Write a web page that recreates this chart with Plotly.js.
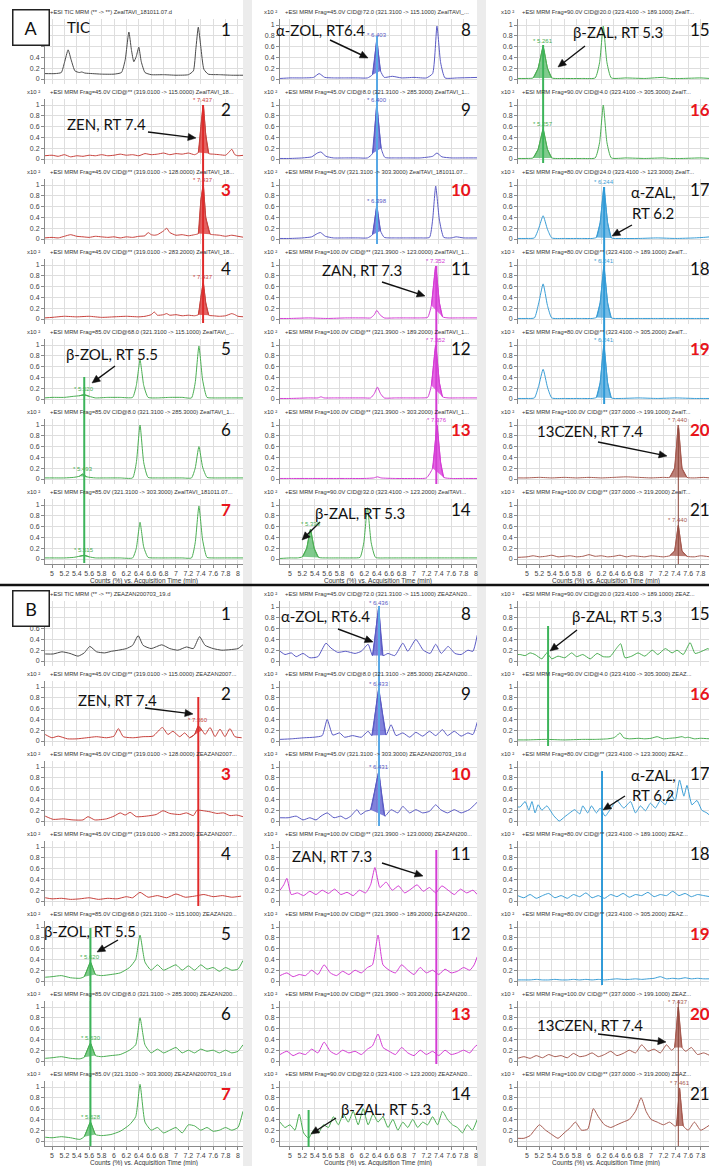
<!DOCTYPE html>
<html><head><meta charset="utf-8">
<script src="https://cdn.plot.ly/plotly-3.0.1.min.js"></script>
<style>html,body{margin:0;padding:0;background:#fff}#chart{width:709px;height:1166px}</style>
</head><body><div id="chart"></div>
<script>
// ================= DATA =================
// Panel A (ZealTAVI_181011.07) — retention time (min) and relative counts (x10^2)
const tA1 = [4.88,5.05,5.15,5.2,5.26,5.31,5.37,5.44,5.48,5.53,5.65,5.8,6.0,6.12,6.18,6.24,6.28,6.32,6.36,6.4,6.44,6.5,6.6,6.8,7.0,7.2,7.28,7.32,7.36,7.4,7.45,7.52,7.7,7.9,8.1];
const yA1 = [0.1,0.1,0.12,0.3,0.54,0.35,0.15,0.12,0.13,0.11,0.1,0.09,0.09,0.12,0.35,0.87,0.55,0.32,0.42,0.59,0.32,0.12,0.08,0.08,0.07,0.08,0.15,0.55,0.96,0.6,0.18,0.09,0.08,0.07,0.07];
const tA2 = [4.88,5.0,5.1,5.2,5.3,5.4,5.5,5.6,5.7,5.8,5.9,6.0,6.1,6.2,6.3,6.4,6.5,6.6,6.7,6.8,6.9,7.0,7.1,7.2,7.3,7.36,7.4,7.44,7.48,7.53,7.6,7.7,7.8,7.85,7.9,7.95,8.0,8.1];
const yA2 = [0.06,0.07,0.05,0.08,0.04,0.06,0.05,0.07,0.06,0.08,0.06,0.07,0.09,0.07,0.08,0.06,0.1,0.08,0.09,0.11,0.08,0.1,0.09,0.11,0.08,0.12,0.6,1.0,0.45,0.1,0.09,0.08,0.07,0.12,0.18,0.08,0.06,0.07];
const tA3 = [4.88,5.0,5.1,5.2,5.3,5.4,5.5,5.6,5.7,5.8,5.9,6.0,6.1,6.2,6.3,6.4,6.5,6.55,6.6,6.65,6.7,6.8,6.85,6.9,7.0,7.1,7.2,7.3,7.36,7.4,7.44,7.48,7.55,7.6,7.7,7.8,7.9,8.0,8.1];
const yA3 = [0.02,0.03,0.02,0.05,0.08,0.05,0.04,0.03,0.05,0.04,0.03,0.04,0.02,0.04,0.03,0.05,0.06,0.12,0.08,0.07,0.08,0.15,0.2,0.12,0.07,0.08,0.06,0.08,0.1,0.7,1.0,0.4,0.09,0.08,0.07,0.05,0.07,0.05,0.03];
const tA4 = [4.88,5.0,5.2,5.4,5.6,5.8,6.0,6.2,6.4,6.5,6.6,6.65,6.7,6.8,6.85,6.9,7.0,7.1,7.2,7.3,7.36,7.4,7.44,7.48,7.53,7.6,7.7,7.8,7.9,7.95,8.0,8.1];
const yA4 = [0.02,0.03,0.05,0.04,0.05,0.03,0.04,0.05,0.04,0.05,0.08,0.13,0.07,0.08,0.1,0.07,0.08,0.06,0.07,0.06,0.08,0.4,0.67,0.3,0.07,0.06,0.05,0.06,0.1,0.08,0.05,0.04];
const tA5 = [4.88,5.0,5.2,5.35,5.44,5.52,5.6,5.7,5.9,6.1,6.3,6.36,6.42,6.48,6.55,6.7,6.9,7.1,7.25,7.31,7.37,7.43,7.5,7.6,7.8,8.1];
const yA5 = [0.02,0.03,0.03,0.05,0.06,0.08,0.05,0.02,0.03,0.03,0.03,0.25,0.72,0.25,0.03,0.02,0.03,0.03,0.02,0.3,0.98,0.35,0.03,0.02,0.02,0.02];
const tA6 = [4.88,5.0,5.2,5.35,5.44,5.49,5.56,5.7,5.9,6.1,6.3,6.36,6.42,6.48,6.55,6.7,6.9,7.1,7.25,7.31,7.37,7.43,7.5,7.6,7.8,8.1];
const yA6 = [0.02,0.02,0.02,0.03,0.05,0.09,0.04,0.02,0.02,0.02,0.02,0.3,1.0,0.3,0.03,0.02,0.02,0.02,0.02,0.2,0.6,0.22,0.03,0.02,0.02,0.02];
const tA7 = [4.88,5.0,5.2,5.35,5.44,5.52,5.6,5.7,5.9,6.1,6.3,6.36,6.42,6.48,6.55,6.7,6.9,7.1,7.25,7.31,7.37,7.43,7.5,7.6,7.8,8.1];
const yA7 = [0.02,0.02,0.02,0.03,0.05,0.07,0.04,0.02,0.02,0.02,0.02,0.2,0.68,0.22,0.03,0.02,0.02,0.02,0.02,0.3,0.98,0.35,0.03,0.02,0.02,0.02];
const tA8 = [4.84,5.0,5.2,5.38,5.47,5.56,5.7,5.9,6.1,6.25,6.33,6.4,6.46,6.52,6.65,6.8,7.0,7.2,7.3,7.37,7.43,7.5,7.7,8.05];
const yA8 = [0.01,0.02,0.02,0.03,0.1,0.03,0.02,0.02,0.02,0.02,0.08,0.72,0.15,0.03,0.05,0.02,0.03,0.02,0.1,0.98,0.3,0.02,0.02,0.03];
const tA9 = [4.84,5.0,5.2,5.35,5.44,5.5,5.58,5.7,5.9,6.1,6.25,6.33,6.4,6.47,6.53,6.7,6.9,7.1,7.3,7.37,7.45,7.6,7.8,8.05];
const yA9 = [0.01,0.01,0.02,0.04,0.11,0.13,0.05,0.02,0.02,0.02,0.02,0.1,1.0,0.2,0.03,0.02,0.02,0.02,0.05,0.11,0.04,0.02,0.02,0.02];
const tA10 = [4.84,5.0,5.2,5.35,5.44,5.49,5.57,5.7,5.9,6.1,6.25,6.33,6.4,6.46,6.52,6.7,6.9,7.1,7.25,7.3,7.35,7.41,7.48,7.6,7.68,7.8,8.05];
const yA10 = [0.01,0.01,0.02,0.04,0.1,0.12,0.05,0.02,0.02,0.02,0.02,0.08,0.61,0.15,0.03,0.02,0.02,0.02,0.03,0.35,0.98,0.35,0.03,0.02,0.04,0.02,0.02];
const tA11 = [4.84,5.0,5.3,5.6,5.9,6.2,6.3,6.36,6.4,6.45,6.52,6.7,6.9,7.1,7.22,7.28,7.35,7.41,7.46,7.55,7.7,7.9,8.05];
const yA11 = [0.01,0.01,0.02,0.01,0.02,0.02,0.02,0.08,0.16,0.08,0.02,0.02,0.02,0.02,0.03,0.25,0.98,0.3,0.04,0.02,0.02,0.02,0.02];
const tA12 = [4.84,5.0,5.3,5.45,5.5,5.55,5.7,5.9,6.2,6.3,6.36,6.41,6.46,6.52,6.7,6.9,7.1,7.22,7.28,7.35,7.41,7.46,7.55,7.7,7.9,8.05];
const yA12 = [0.01,0.01,0.02,0.02,0.04,0.02,0.02,0.02,0.02,0.02,0.1,0.22,0.1,0.02,0.02,0.02,0.02,0.03,0.25,1.0,0.3,0.04,0.02,0.02,0.02,0.02];
const tA13 = [4.84,5.0,5.3,5.6,5.9,6.2,6.35,6.41,6.47,6.7,7.0,7.2,7.3,7.37,7.43,7.48,7.6,7.8,8.05];
const yA13 = [0.01,0.01,0.01,0.01,0.01,0.01,0.02,0.04,0.02,0.01,0.01,0.02,0.2,1.0,0.3,0.03,0.01,0.01,0.01];
const tA14 = [4.84,5.0,5.12,5.2,5.27,5.33,5.39,5.46,5.6,5.8,6.0,6.13,6.19,6.25,6.31,6.38,6.55,6.8,7.0,7.3,7.6,8.05];
const yA14 = [0.01,0.02,0.02,0.04,0.2,0.55,0.2,0.03,0.02,0.02,0.02,0.03,0.3,0.95,0.3,0.03,0.02,0.02,0.02,0.02,0.02,0.02];
const tA15 = [4.85,5.0,5.1,5.18,5.26,5.33,5.4,5.6,5.9,6.1,6.17,6.23,6.29,6.36,6.6,6.9,7.2,7.3,7.5,7.8,7.95];
const yA15 = [0.01,0.01,0.02,0.2,0.6,0.2,0.02,0.01,0.01,0.02,0.3,0.98,0.3,0.02,0.02,0.01,0.03,0.01,0.01,0.02,0.01];
const tA16 = tA15;
const yA16 = [0.01,0.01,0.02,0.18,0.55,0.18,0.02,0.01,0.01,0.02,0.3,1.0,0.3,0.02,0.02,0.01,0.02,0.01,0.01,0.02,0.01];
const tA17 = [4.85,5.0,5.12,5.19,5.26,5.33,5.4,5.6,5.9,6.05,6.12,6.18,6.24,6.3,6.36,6.5,6.8,7.1,7.4,7.7,7.85,7.95];
const yA17 = [0.01,0.01,0.02,0.2,0.43,0.18,0.02,0.01,0.01,0.01,0.03,0.3,0.96,0.3,0.02,0.01,0.01,0.02,0.01,0.02,0.03,0.04];
const tA18 = tA17;
const yA18 = [0.01,0.01,0.02,0.3,0.65,0.25,0.02,0.01,0.01,0.01,0.03,0.3,0.98,0.3,0.02,0.01,0.01,0.01,0.01,0.01,0.01,0.01];
const tA19 = tA17;
const yA19 = [0.01,0.01,0.02,0.25,0.55,0.22,0.02,0.01,0.01,0.01,0.03,0.3,1.0,0.3,0.02,0.01,0.02,0.01,0.02,0.01,0.01,0.01];
const tA20 = [4.85,5.0,5.2,5.4,5.6,5.8,6.0,6.2,6.4,6.6,6.8,7.0,7.2,7.3,7.38,7.44,7.5,7.58,7.7,7.85,7.95];
const yA20 = [0.02,0.02,0.03,0.02,0.03,0.02,0.03,0.02,0.03,0.04,0.03,0.02,0.03,0.03,0.2,1.0,0.2,0.03,0.02,0.03,0.02];
const tA21 = [4.85,5.0,5.1,5.2,5.3,5.4,5.5,5.6,5.7,5.8,5.9,6.0,6.1,6.2,6.3,6.4,6.5,6.6,6.7,6.8,6.9,7.0,7.1,7.2,7.3,7.38,7.44,7.5,7.58,7.7,7.8,7.95];
const yA21 = [0.03,0.04,0.06,0.04,0.05,0.07,0.04,0.05,0.06,0.04,0.05,0.08,0.05,0.06,0.04,0.05,0.07,0.04,0.06,0.05,0.04,0.06,0.05,0.04,0.06,0.15,0.62,0.15,0.05,0.04,0.06,0.04];

// Panel B (ZEAZAN200703_19)
const tB1 = [4.89,5.02,5.16,5.29,5.42,5.52,5.61,5.72,5.85,5.96,6.07,6.2,6.3,6.39,6.47,6.6,6.77,6.9,7.03,7.17,7.28,7.38,7.47,7.6,7.74,7.87,8.0,8.08];
const yB1 = [0.13,0.13,0.17,0.14,0.09,0.15,0.27,0.17,0.15,0.18,0.2,0.23,0.29,0.47,0.29,0.23,0.3,0.23,0.2,0.26,0.23,0.45,0.29,0.23,0.2,0.21,0.23,0.3];
const tB2 = [4.89,5.0,5.1,5.25,5.4,5.56,5.72,5.88,6.0,6.07,6.15,6.31,6.47,6.63,6.78,6.87,6.95,7.06,7.14,7.22,7.3,7.36,7.42,7.47,7.55,7.63,7.71,7.79,7.87,7.95,8.06];
const yB2 = [0.12,0.06,0.09,0.04,0.04,0.06,0.08,0.06,0.09,0.23,0.08,0.06,0.08,0.09,0.25,0.12,0.18,0.08,0.15,0.06,0.12,0.28,0.2,0.12,0.25,0.08,0.22,0.08,0.23,0.08,0.06];
const tB3 = [4.89,5.02,5.18,5.34,5.5,5.58,5.69,5.88,6.0,6.1,6.18,6.26,6.36,6.52,6.68,6.79,6.9,7.06,7.17,7.28,7.34,7.44,7.55,7.66,7.77,7.87,7.98,8.08];
const yB3 = [0.09,0.03,0.04,0.02,0.02,0.08,0.02,0.04,0.09,0.15,0.11,0.16,0.08,0.09,0.12,0.19,0.14,0.12,0.15,0.1,0.2,0.19,0.17,0.14,0.15,0.1,0.11,0.08];
const tB4 = [4.89,5.0,5.15,5.3,5.45,5.6,5.75,5.9,6.05,6.2,6.3,6.42,6.55,6.7,6.85,7.0,7.15,7.3,7.45,7.6,7.75,7.9,8.05];
const yB4 = [0.06,0.04,0.05,0.03,0.04,0.06,0.03,0.05,0.04,0.08,0.06,0.16,0.07,0.1,0.06,0.13,0.07,0.09,0.12,0.08,0.1,0.07,0.09];
const tB5 = [4.89,5.0,5.15,5.3,5.45,5.52,5.62,5.7,5.8,5.95,6.1,6.25,6.35,6.42,6.5,6.6,6.7,6.8,6.9,7.0,7.1,7.2,7.3,7.4,7.5,7.6,7.7,7.8,7.9,8.0,8.08];
const yB5 = [0.07,0.08,0.1,0.06,0.05,0.08,0.35,0.12,0.1,0.12,0.15,0.25,0.4,0.85,0.35,0.2,0.3,0.2,0.25,0.3,0.2,0.28,0.2,0.3,0.22,0.25,0.18,0.25,0.2,0.22,0.38];
const tB6 = tB5;
const yB6 = [0.05,0.06,0.08,0.05,0.04,0.07,0.33,0.1,0.08,0.1,0.12,0.2,0.3,0.8,0.3,0.15,0.22,0.15,0.2,0.25,0.15,0.2,0.15,0.22,0.18,0.2,0.15,0.2,0.15,0.18,0.3];
const tB7 = tB5;
const yB7 = [0.07,0.06,0.08,0.06,0.03,0.08,0.35,0.12,0.1,0.12,0.18,0.3,0.45,1.05,0.35,0.2,0.25,0.15,0.2,0.25,0.15,0.3,0.28,0.2,0.25,0.18,0.2,0.25,0.2,0.25,0.55];
const tB8 = [4.84,4.92,5.02,5.1,5.21,5.32,5.45,5.58,5.66,5.77,5.9,6.05,6.15,6.26,6.33,6.43,6.5,6.58,6.69,6.82,6.9,7.03,7.15,7.26,7.35,7.44,7.55,7.66,7.76,7.87,7.95,8.02];
const yB8 = [0.18,0.12,0.15,0.08,0.14,0.06,0.08,0.33,0.24,0.16,0.18,0.14,0.18,0.31,0.1,0.98,0.1,0.14,0.1,0.33,0.18,0.4,0.2,0.14,0.31,0.14,0.27,0.14,0.12,0.2,0.18,0.48];
const tB9 = [4.84,5.02,5.23,5.39,5.52,5.6,5.69,5.8,5.88,6.01,6.15,6.26,6.32,6.43,6.55,6.63,6.71,6.82,6.93,7.03,7.14,7.25,7.35,7.46,7.54,7.65,7.76,7.87,7.95,8.02];
const yB9 = [0.03,0.04,0.06,0.07,0.1,0.4,0.11,0.15,0.07,0.1,0.07,0.18,0.1,0.95,0.11,0.3,0.1,0.15,0.07,0.16,0.09,0.18,0.1,0.21,0.1,0.18,0.09,0.15,0.12,0.35];
const tB10 = [4.84,4.97,5.1,5.21,5.32,5.42,5.5,5.6,5.71,5.82,5.9,5.98,6.08,6.14,6.22,6.3,6.43,6.53,6.63,6.74,6.82,6.93,7.03,7.14,7.25,7.35,7.43,7.54,7.65,7.76,7.89,8.02];
const yB10 = [0.06,0.06,0.09,0.02,0.06,0.02,0.09,0.15,0.06,0.09,0.04,0.09,0.21,0.12,0.18,0.21,0.9,0.09,0.21,0.15,0.27,0.15,0.21,0.15,0.18,0.3,0.21,0.15,0.21,0.15,0.21,0.35];
const tB11 = [4.84,4.9,4.95,5.02,5.12,5.22,5.32,5.42,5.52,5.62,5.72,5.82,5.92,6.02,6.12,6.22,6.3,6.37,6.45,6.55,6.65,6.75,6.85,6.95,7.05,7.15,7.25,7.35,7.45,7.55,7.65,7.75,7.85,7.95,8.02];
const yB11 = [0.2,0.3,0.42,0.12,0.15,0.1,0.18,0.12,0.2,0.14,0.22,0.12,0.16,0.1,0.2,0.15,0.3,0.62,0.25,0.35,0.2,0.28,0.15,0.22,0.3,0.18,0.25,0.15,0.28,0.2,0.12,0.22,0.15,0.2,0.12];
const tB12 = [4.84,4.95,5.05,5.15,5.25,5.35,5.45,5.55,5.65,5.75,5.85,5.95,6.05,6.15,6.25,6.33,6.42,6.5,6.6,6.7,6.8,6.9,7.0,7.1,7.2,7.3,7.4,7.5,7.6,7.7,7.8,7.9,7.97,8.02];
const yB12 = [0.1,0.15,0.08,0.12,0.1,0.2,0.12,0.3,0.15,0.1,0.18,0.12,0.2,0.15,0.25,0.3,0.85,0.3,0.2,0.15,0.3,0.2,0.12,0.25,0.15,0.2,0.12,0.22,0.15,0.18,0.25,0.2,0.3,0.45];
const tB13 = tB12;
const yB13 = [0.12,0.18,0.1,0.15,0.12,0.22,0.15,0.35,0.18,0.12,0.2,0.15,0.18,0.12,0.22,0.28,0.5,0.25,0.18,0.12,0.25,0.15,0.1,0.2,0.12,0.18,0.1,0.2,0.12,0.15,0.2,0.15,0.25,0.3];
const tB14 = [4.84,4.92,5.0,5.08,5.15,5.22,5.3,5.38,5.46,5.54,5.62,5.7,5.78,5.86,5.94,6.02,6.1,6.18,6.26,6.34,6.42,6.5,6.58,6.66,6.74,6.82,6.9,6.98,7.06,7.14,7.22,7.3,7.38,7.46,7.54,7.62,7.7,7.78,7.86,7.94,8.02];
const yB14 = [0.35,0.25,0.3,0.2,0.5,0.15,0.05,0.2,0.15,0.3,0.25,0.45,0.3,0.5,0.35,0.55,0.3,0.6,0.3,0.5,0.35,0.45,0.25,0.4,0.2,0.35,0.25,0.4,0.25,0.35,0.3,0.45,0.3,0.55,0.4,0.3,0.25,0.15,0.3,0.2,0.4];
const tB15 = [4.85,4.89,4.97,5.05,5.13,5.24,5.32,5.4,5.5,5.61,5.72,5.8,5.9,6.02,6.13,6.23,6.34,6.42,6.51,6.58,6.69,6.79,6.9,7.02,7.11,7.23,7.34,7.42,7.52,7.63,7.71,7.82,7.92,7.95];
const yB15 = [0.12,0.12,0.1,0.15,0.12,0.04,0.15,0.04,0.09,0.06,0.15,0.08,0.12,0.04,0.14,0.08,0.08,0.2,0.32,0.06,0.09,0.15,0.09,0.2,0.12,0.23,0.15,0.2,0.12,0.34,0.14,0.18,0.23,0.2];
const tB16 = [4.85,5.0,5.3,5.6,5.9,6.1,6.3,6.4,6.45,6.5,6.56,6.65,6.8,6.9,7.0,7.1,7.2,7.3,7.4,7.5,7.55,7.6,7.7,7.8,7.95];
const yB16 = [0.02,0.02,0.03,0.02,0.03,0.03,0.04,0.06,0.1,0.15,0.06,0.04,0.05,0.04,0.05,0.08,0.04,0.05,0.06,0.08,0.06,0.07,0.04,0.05,0.04];
const tB17 = [4.85,4.89,4.97,5.03,5.08,5.13,5.18,5.24,5.32,5.43,5.52,5.61,5.69,5.77,5.85,5.9,5.98,6.04,6.12,6.18,6.26,6.34,6.45,6.56,6.67,6.75,6.83,6.91,6.99,7.07,7.15,7.23,7.31,7.39,7.46,7.53,7.58,7.66,7.74,7.82,7.9,7.96];
const yB17 = [0.26,0.26,0.36,0.2,0.36,0.15,0.3,0.2,0.28,0.1,0.0,0.08,0.15,0.21,0.13,0.28,0.15,0.28,0.15,0.24,0.09,0.21,0.38,0.24,0.36,0.15,0.28,0.19,0.33,0.24,0.38,0.3,0.52,0.38,0.76,0.46,0.66,0.3,0.38,0.2,0.15,0.09];
const tB18 = [4.85,4.95,5.05,5.15,5.25,5.35,5.45,5.55,5.65,5.75,5.85,5.95,6.05,6.15,6.25,6.35,6.45,6.55,6.65,6.75,6.85,6.95,7.05,7.15,7.25,7.35,7.45,7.55,7.65,7.75,7.85,7.95];
const yB18 = [0.1,0.06,0.12,0.05,0.1,0.14,0.06,0.1,0.05,0.12,0.08,0.15,0.06,0.1,0.05,0.12,0.08,0.14,0.07,0.12,0.1,0.16,0.08,0.12,0.1,0.18,0.1,0.14,0.08,0.12,0.1,0.08];
const tB19 = tB18;
const yB19 = [0.02,0.02,0.02,0.03,0.02,0.02,0.03,0.02,0.02,0.03,0.02,0.03,0.02,0.03,0.02,0.03,0.04,0.03,0.03,0.04,0.03,0.04,0.05,0.08,0.04,0.05,0.04,0.06,0.04,0.05,0.04,0.04];
const tB20 = [4.85,4.95,5.05,5.15,5.25,5.35,5.45,5.55,5.65,5.75,5.85,5.95,6.05,6.15,6.25,6.35,6.45,6.55,6.65,6.75,6.85,6.95,7.05,7.15,7.25,7.33,7.38,7.44,7.5,7.56,7.65,7.75,7.85,7.95];
const yB20 = [0.05,0.08,0.05,0.1,0.06,0.12,0.08,0.1,0.06,0.14,0.08,0.1,0.15,0.08,0.12,0.18,0.1,0.14,0.2,0.15,0.3,0.18,0.22,0.15,0.3,0.2,0.25,1.0,0.25,0.18,0.25,0.12,0.15,0.1];
const tB21 = [4.85,4.95,5.05,5.12,5.2,5.3,5.4,5.5,5.6,5.7,5.78,5.88,5.98,6.07,6.15,6.25,6.35,6.45,6.55,6.65,6.75,6.84,6.92,7.0,7.1,7.2,7.3,7.38,7.41,7.46,7.52,7.6,7.7,7.8,7.95];
const yB21 = [0.05,0.05,0.1,0.2,0.3,0.2,0.12,0.05,0.15,0.25,0.35,0.2,0.22,0.6,0.45,0.3,0.25,0.3,0.35,0.4,0.55,0.8,0.55,0.4,0.35,0.3,0.35,0.28,0.28,0.98,0.28,0.2,0.35,0.2,0.3];

// integrated peak windows (min) and labelled apex times
const fillA = {2:[7.36,7.53],3:[7.36,7.55],4:[7.36,7.53],5:[5.44,5.6],6:[5.44,5.56],7:[5.44,5.6],8:[6.33,6.46],9:[6.33,6.47],10:[6.33,6.46],11:[7.28,7.46],12:[7.28,7.46],13:[7.3,7.48],14:[5.2,5.46],15:[5.1,5.4],16:[5.1,5.4],17:[6.12,6.36],18:[6.12,6.36],19:[6.12,6.36],20:[7.3,7.58],21:[7.3,7.58]};
const fillB = {2:[7.22,7.42],5:[5.52,5.7],6:[5.52,5.7],7:[5.52,5.7],8:[6.33,6.5],9:[6.32,6.55],10:[6.3,6.53],20:[7.38,7.5],21:[7.41,7.52]};
const rtA = {2:'7.437',3:'7.437',4:'7.437',5:'5.520',6:'5.493',7:'5.515',8:'6.403',9:'6.400',10:'6.398',11:'7.352',12:'7.352',13:'7.376',14:'5.339',15:'5.261',16:'5.257',17:'6.244',18:'6.241',19:'6.241',20:'7.440',21:'7.440'};
const rtB = {2:'7.360',5:'5.620',6:'5.630',7:'5.628',8:'6.436',9:'6.433',10:'6.431',20:'7.437',21:'7.461'};
// RT cursor lines (min)
const cursorA = [{n:2,t:7.437},{n:5,t:5.52},{n:8,t:6.403},{n:11,t:7.36},{n:15,t:5.26},{n:17,t:6.244},{n:20,t:7.44}];
const cursorB = [{n:2,t:7.36},{n:5,t:5.62},{n:8,t:6.436},{n:11,t:7.36},{n:14,t:5.3},{n:15,t:5.34},{n:17,t:6.21},{n:20,t:7.44}];

const redNums = [3,7,10,13,16,19,20];
const hdrA = [
'+ESI TIC MRM (** -&gt; **) ZealTAVI_181011.07.d',
'+ESI MRM Frag=45.0V CID@** (319.0100 -&gt; 115.0000) ZealTAVI_18...',
'+ESI MRM Frag=45.0V CID@** (319.0100 -&gt; 128.0000) ZealTAVI_18...',
'+ESI MRM Frag=45.0V CID@** (319.0100 -&gt; 283.2000) ZealTAVI_18...',
'+ESI MRM Frag=85.0V CID@68.0 (321.3100 -&gt; 115.1000) ZealTAVI_...',
'+ESI MRM Frag=85.0V CID@8.0 (321.3100 -&gt; 285.3000) ZealTAVI_1...',
'+ESI MRM Frag=85.0V (321.3100 -&gt; 303.3000) ZealTAVI_181011.07...',
'+ESI MRM Frag=45.0V CID@72.0 (321.3100 -&gt; 115.1000) ZealTAVI_...',
'+ESI MRM Frag=45.0V CID@8.0 (321.3100 -&gt; 285.3000) ZealTAVI_1...',
'+ESI MRM Frag=45.0V (321.3100 -&gt; 303.3000) ZealTAVI_181011.07...',
'+ESI MRM Frag=100.0V CID@** (321.3900 -&gt; 123.0000) ZealTAVI_1...',
'+ESI MRM Frag=100.0V CID@** (321.3900 -&gt; 189.2000) ZealTAVI_1...',
'+ESI MRM Frag=100.0V CID@** (321.3900 -&gt; 303.2000) ZealTAVI_1...',
'+ESI MRM Frag=90.0V CID@32.0 (323.4100 -&gt; 123.2000) ZealTAVI...',
'+ESI MRM Frag=90.0V CID@20.0 (323.4100 -&gt; 189.1000) ZealT...',
'+ESI MRM Frag=90.0V CID@4.0 (323.4100 -&gt; 305.3000) ZealT...',
'+ESI MRM Frag=80.0V CID@24.0 (323.4100 -&gt; 123.3000) ZealT...',
'+ESI MRM Frag=80.0V CID@** (323.4100 -&gt; 189.1000) ZealT...',
'+ESI MRM Frag=80.0V CID@** (323.4100 -&gt; 305.2000) ZealT...',
'+ESI MRM Frag=100.0V CID@** (337.0000 -&gt; 199.1000) ZealT...',
'+ESI MRM Frag=100.0V CID@** (337.0000 -&gt; 319.2000) ZealT...'];
const hdrB = [
'+ESI TIC MRM (** -&gt; **) ZEAZAN200703_19.d',
'+ESI MRM Frag=45.0V CID@** (319.0100 -&gt; 115.0000) ZEAZAN2007...',
'+ESI MRM Frag=45.0V CID@** (319.0100 -&gt; 128.0000) ZEAZAN2007...',
'+ESI MRM Frag=45.0V CID@** (319.0100 -&gt; 283.2000) ZEAZAN2007...',
'+ESI MRM Frag=85.0V CID@68.0 (321.3100 -&gt; 115.1000) ZEAZAN20...',
'+ESI MRM Frag=85.0V CID@8.0 (321.3100 -&gt; 285.3000) ZEAZAN200...',
'+ESI MRM Frag=85.0V (321.3100 -&gt; 303.3000) ZEAZAN200703_19.d',
'+ESI MRM Frag=45.0V CID@72.0 (321.3100 -&gt; 115.1000) ZEAZAN20...',
'+ESI MRM Frag=45.0V CID@8.0 (321.3100 -&gt; 285.3000) ZEAZAN200...',
'+ESI MRM Frag=45.0V (321.3100 -&gt; 303.3000) ZEAZAN200703_19.d',
'+ESI MRM Frag=100.0V CID@** (321.3900 -&gt; 123.0000) ZEAZAN200...',
'+ESI MRM Frag=100.0V CID@** (321.3900 -&gt; 189.2000) ZEAZAN200...',
'+ESI MRM Frag=100.0V CID@** (321.3900 -&gt; 303.2000) ZEAZAN200...',
'+ESI MRM Frag=90.0V CID@32.0 (323.4100 -&gt; 123.2000) ZEAZAN20...',
'+ESI MRM Frag=90.0V CID@20.0 (323.4100 -&gt; 189.1000) ZEAZ...',
'+ESI MRM Frag=90.0V CID@4.0 (323.4100 -&gt; 305.3000) ZEAZ...',
'+ESI MRM Frag=80.0V CID@** (323.4100 -&gt; 123.3000) ZEAZ...',
'+ESI MRM Frag=80.0V CID@** (323.4100 -&gt; 189.1000) ZEAZ...',
'+ESI MRM Frag=80.0V CID@** (323.4100 -&gt; 305.2000) ZEAZ...',
'+ESI MRM Frag=100.0V CID@** (337.0000 -&gt; 199.1000) ZEAZ...',
'+ESI MRM Frag=100.0V CID@** (337.0000 -&gt; 319.2000) ZEAZ...'];

const seriesA = [[tA1,yA1],[tA2,yA2],[tA3,yA3],[tA4,yA4],[tA5,yA5],[tA6,yA6],[tA7,yA7],[tA8,yA8],[tA9,yA9],[tA10,yA10],[tA11,yA11],[tA12,yA12],[tA13,yA13],[tA14,yA14],[tA15,yA15],[tA16,yA16],[tA17,yA17],[tA18,yA18],[tA19,yA19],[tA20,yA20],[tA21,yA21]];
const seriesB = [[tB1,yB1],[tB2,yB2],[tB3,yB3],[tB4,yB4],[tB5,yB5],[tB6,yB6],[tB7,yB7],[tB8,yB8],[tB9,yB9],[tB10,yB10],[tB11,yB11],[tB12,yB12],[tB13,yB13],[tB14,yB14],[tB15,yB15],[tB16,yB16],[tB17,yB17],[tB18,yB18],[tB19,yB19],[tB20,yB20],[tB21,yB21]];

// ================= LAYOUT / STYLE =================
const W = 709, H = 1166;
const PX = p => p / W, PY = p => 1 - p / H;
const FONT = 'Liberation Sans, Arial, sans-serif';
const BIG = 'Lato, Open Sans, sans-serif';
const COLS = [
  {L:45, R:243, t0:4.887, t1:8.081, hdrX:48, xtenX:25, numX:233, numA:'right'},
  {L:280, R:477, t0:4.839, t1:8.016, hdrX:283, xtenX:262, numX:473, numA:'right'},
  {L:518, R:709, t0:4.855, t1:7.935, hdrX:520, xtenX:499, numX:688, numA:'left'}];
const BASE = [79, 661], STEP = 80, UPX = 54;
const PAL = {
  gray:{l:'#4a4a4a', f:'rgba(80,80,80,0.5)'},
  red:{l:'#c8413c', f:'rgba(220,45,45,0.75)'},
  green:{l:'#4aae52', f:'rgba(60,175,80,0.65)'},
  blue:{l:'#5a5ac4', f:'rgba(75,75,205,0.7)'},
  mag:{l:'#d43cd4', f:'rgba(220,50,220,0.75)'},
  sky:{l:'#3a9ed6', f:'rgba(40,150,215,0.65)'},
  brown:{l:'#a65a50', f:'rgba(165,85,75,0.75)'}};
const CUR = {red:'#e02a2a', green:'#3cb45a', blue:'#58a8e6', mag:'#d43cd4', sky:'#2f9ad8', brown:'#8a4438'};
function colorOf(n){ if(n===1)return 'gray'; if(n<=4)return 'red'; if(n<=7)return 'green'; if(n<=10)return 'blue'; if(n<=13)return 'mag'; if(n<=16)return 'green'; if(n<=19)return 'sky'; return 'brown'; }

const traces = [], annotations = [], shapes = [];
const layout = {width:W, height:H, margin:{l:0,r:0,t:0,b:0}, paper_bgcolor:'#ffffff', plot_bgcolor:'#ffffff', showlegend:false, font:{family:FONT}};

// gutters between column screenshots
[[243,252],[477,486]].forEach(g => shapes.push({type:'rect', xref:'paper', yref:'paper', x0:PX(g[0]), x1:PX(g[1]), y0:0, y1:1, fillcolor:'#ececec', line:{width:0}, layer:'below'}));

function axisName(k){ return k===1 ? '' : String(k); }
const TICKV = [0,0.2,0.4,0.6,0.8,1];

for (let p = 0; p < 2; p++) {
  const series = p===0 ? seriesA : seriesB;
  const fills = p===0 ? fillA : fillB;
  const rts = p===0 ? rtA : rtB;
  const hdrs = p===0 ? hdrA : hdrB;
  for (let n = 1; n <= 21; n++) {
    const col = Math.floor((n-1)/7), row = (n-1)%7;
    const c = COLS[col];
    const k = p*21 + n;
    const xa = 'x'+axisName(k), ya = 'y'+axisName(k);
    const Z = BASE[p] + STEP*row;
    const bottom = row === 6;
    layout['xaxis'+axisName(k)] = {
      domain:[PX(c.L), PX(c.R)], range:[c.t0, c.t1], anchor:ya, tick0:5, dtick:0.2,
      showgrid:true, gridcolor:'#dedede', gridwidth:1, zeroline:false,
      showline:bottom, linecolor:'#8a8a8a', linewidth:1, ticks:bottom?'outside':'', ticklen:3, tickcolor:'#8a8a8a',
      showticklabels:bottom, tickfont:{size:7, color:'#444', family:FONT}, fixedrange:true};
    // the A/B frame covers the upper tick labels of the TIC rows
    const tt = n===1 ? (p===0 ? ['0','0.2','0.4','','',''] : ['0','0.2','0.4','0.6','','']) : ['0','0.2','0.4','0.6','0.8','1'];
    layout['yaxis'+axisName(k)] = {
      domain:[PY(Z+5), PY(Z-60)], range:[-5/UPX, 60/UPX], anchor:xa, tickmode:'array', tickvals:TICKV, ticktext:tt,
      showgrid:true, gridcolor:'#dedede', gridwidth:1, zeroline:false,
      showline:true, linecolor:'#8a8a8a', linewidth:1, ticks:'outside', ticklen:3, tickcolor:'#8a8a8a',
      tickfont:{size:7, color:'#444', family:FONT}, fixedrange:true};
    const cn = colorOf(n), pal = PAL[cn];
    const [ts, ys] = series[n-1];
    const fr = fills[n];
    let apex = null;
    if (fr) {
      const fx = [], fy = [];
      ts.forEach((t,i) => { if (t >= fr[0]-1e-9 && t <= fr[1]+1e-9) { fx.push(t); fy.push(ys[i]); } });
      traces.push({x:fx, y:fy, xaxis:xa, yaxis:ya, type:'scatter', mode:'lines', fill:'toself', fillcolor:pal.f, line:{color:pal.l, width:1}, hoverinfo:'skip'});
      apex = Math.max(...fy);
    }
    traces.push({x:ts, y:ys, xaxis:xa, yaxis:ya, type:'scatter', mode:'lines', line:{color:pal.l, width:1, shape:'spline', smoothing:0.5}, hoverinfo:'skip'});
    if (rts[n]) {
      const tv = parseFloat(rts[n]);
      annotations.push({xref:xa, yref:ya, x:tv, y:(apex===null?1:apex)+0.1, text:'* '+rts[n], showarrow:false, font:{size:6, color:pal.l, family:FONT}, xanchor:'center', yanchor:'middle'});
    }
    // header line
    annotations.push({xref:'paper', yref:'paper', x:PX(c.hdrX), y:PY(Z-67), text:hdrs[n-1], showarrow:false, xanchor:'left', yanchor:'middle', font:{size:5.8, color:'#333', family:FONT}});
    if (n !== 1) annotations.push({xref:'paper', yref:'paper', x:PX(c.xtenX), y:PY(Z-67), text:'x10 ²', showarrow:false, xanchor:'left', yanchor:'middle', font:{size:6, color:'#333', family:FONT}});
    // panel number
    const isRed = redNums.includes(n);
    annotations.push({xref:'paper', yref:'paper', x:PX(c.numX), y:PY(Z-(p===0?50:48)), text:isRed?'<b>'+n+'</b>':String(n), showarrow:false, xanchor:c.numA, yanchor:'middle', font:{size:17, color:isRed?'#e8141b':'#111', family:BIG}});
    if (bottom) annotations.push({xref:'paper', yref:'paper', x:PX((c.L+c.R)/2 + (col===2?-8:0)), y:PY(Z+22), text:'Counts (%) vs. Acquisition Time (min)', showarrow:false, xanchor:'center', yanchor:'middle', font:{size:6.5, color:'#333', family:FONT}});
  }
}

// RT cursor lines (vertical extent in px of the screenshot)
const curSpanA = {2:[105,323],5:[377,563],8:[36,244],11:[266,484],15:[45,163],17:[187,404],20:[428,564]};
const curSpanB = {2:[697,906],5:[928,1146],8:[606,826],11:[850,1064],14:[1110,1147],15:[626,746],17:[771,985],20:[1000,1146]};
[[cursorA,curSpanA,0],[cursorB,curSpanB,1]].forEach(([cur,span,p]) => {
  cur.forEach(cv => {
    const k = p*21 + cv.n;
    const cn = colorOf(cv.n);
    shapes.push({type:'line', xref:'x'+axisName(k), yref:'paper', x0:cv.t, x1:cv.t, y0:PY(span[cv.n][1]), y1:PY(span[cv.n][0]), line:{color:CUR[cn], width:cn==='brown'?1:2}, layer:'above'});
  });
});

// compound labels and arrows (pixel positions in the figure)
const labels = [
  ['TIC',78,27],['ZEN, RT 7.4',107,124],['β-ZOL, RT 5.5',112,354],['α-ZOL, RT6.4',320,30],['ZAN, RT 7.3',362,270],
  ['β-ZAL, RT 5.3',618,32],['α-ZAL,',653,192],['RT 6.2',653,213],['13CZEN, RT 7.4',590,431],['β-ZAL, RT 5.3',360,513],
  ['ZEN, RT 7.4',117,700],['β-ZOL, RT 5.5',90,931],['α-ZOL, RT6.4',325,616],['ZAN, RT 7.3',332,856],['β-ZAL, RT 5.3',617,616],
  ['α-ZAL,',653,775],['RT 6.2',653,795],['13CZEN, RT 7.4',590,1025],['β-ZAL, RT 5.3',386,1109]];
labels.forEach(l => annotations.push({xref:'paper', yref:'paper', x:PX(l[1]), y:PY(l[2]), text:l[0], showarrow:false, xanchor:'center', yanchor:'middle', font:{size:15, color:'#111', family:BIG}}));
const arrows = [
  [[196,138],[148,132]],[[92,383],[115,366]],[[368,58],[330,40]],[[425,296],[382,282]],[[558,67],[585,46]],[[612,236],[632,225]],[[667,456],[598,442]],[[302,540],[320,522]],
  [[193,714],[145,708]],[[97,952],[118,940]],[[373,642],[338,629]],[[423,876],[382,863]],[[550,651],[577,630]],[[603,810],[625,796]],[[666,1042],[598,1034]],[[311,1134],[336,1118]]];
arrows.forEach(a => {
  const [hx,hy] = a[0], [tx,ty] = a[1];
  const dx = hx-tx, dy = hy-ty, len = Math.hypot(dx,dy), ux = dx/len, uy = dy/len;
  const hl = 8, hw = 3.6;
  const bx = hx-ux*hl, by = hy-uy*hl;
  shapes.push({type:'line', xref:'paper', yref:'paper', x0:PX(tx), y0:PY(ty), x1:PX(bx+ux*1), y1:PY(by+uy*1), line:{color:'#111', width:1.4}, layer:'above'});
  const p1 = [bx-uy*hw, by+ux*hw], p2 = [bx+uy*hw, by-ux*hw];
  shapes.push({type:'path', xref:'paper', yref:'paper', path:`M ${PX(hx)} ${PY(hy)} L ${PX(p1[0])} ${PY(p1[1])} L ${PX(p2[0])} ${PY(p2[1])} Z`, fillcolor:'#111', line:{color:'#111', width:0.5}, layer:'above'});
});

// panel divider and A/B boxes
shapes.push({type:'line', xref:'paper', yref:'paper', x0:0, x1:1, y0:PY(585), y1:PY(585), line:{color:'#111', width:2.5}, layer:'above'});
[['A',31,28],['B',31,608]].forEach(b => annotations.push({xref:'paper', yref:'paper', x:PX(b[1]), y:PY(b[2]), text:b[0], showarrow:false, xanchor:'center', yanchor:'middle', width:35, height:34, borderpad:0, bordercolor:'#222', borderwidth:1.5, bgcolor:'#ffffff', font:{size:18, color:'#111', family:BIG}}));

layout.shapes = shapes;
layout.annotations = annotations;
Plotly.newPlot('chart', traces, layout, {staticPlot:true, displayModeBar:false});
</script></body></html>
